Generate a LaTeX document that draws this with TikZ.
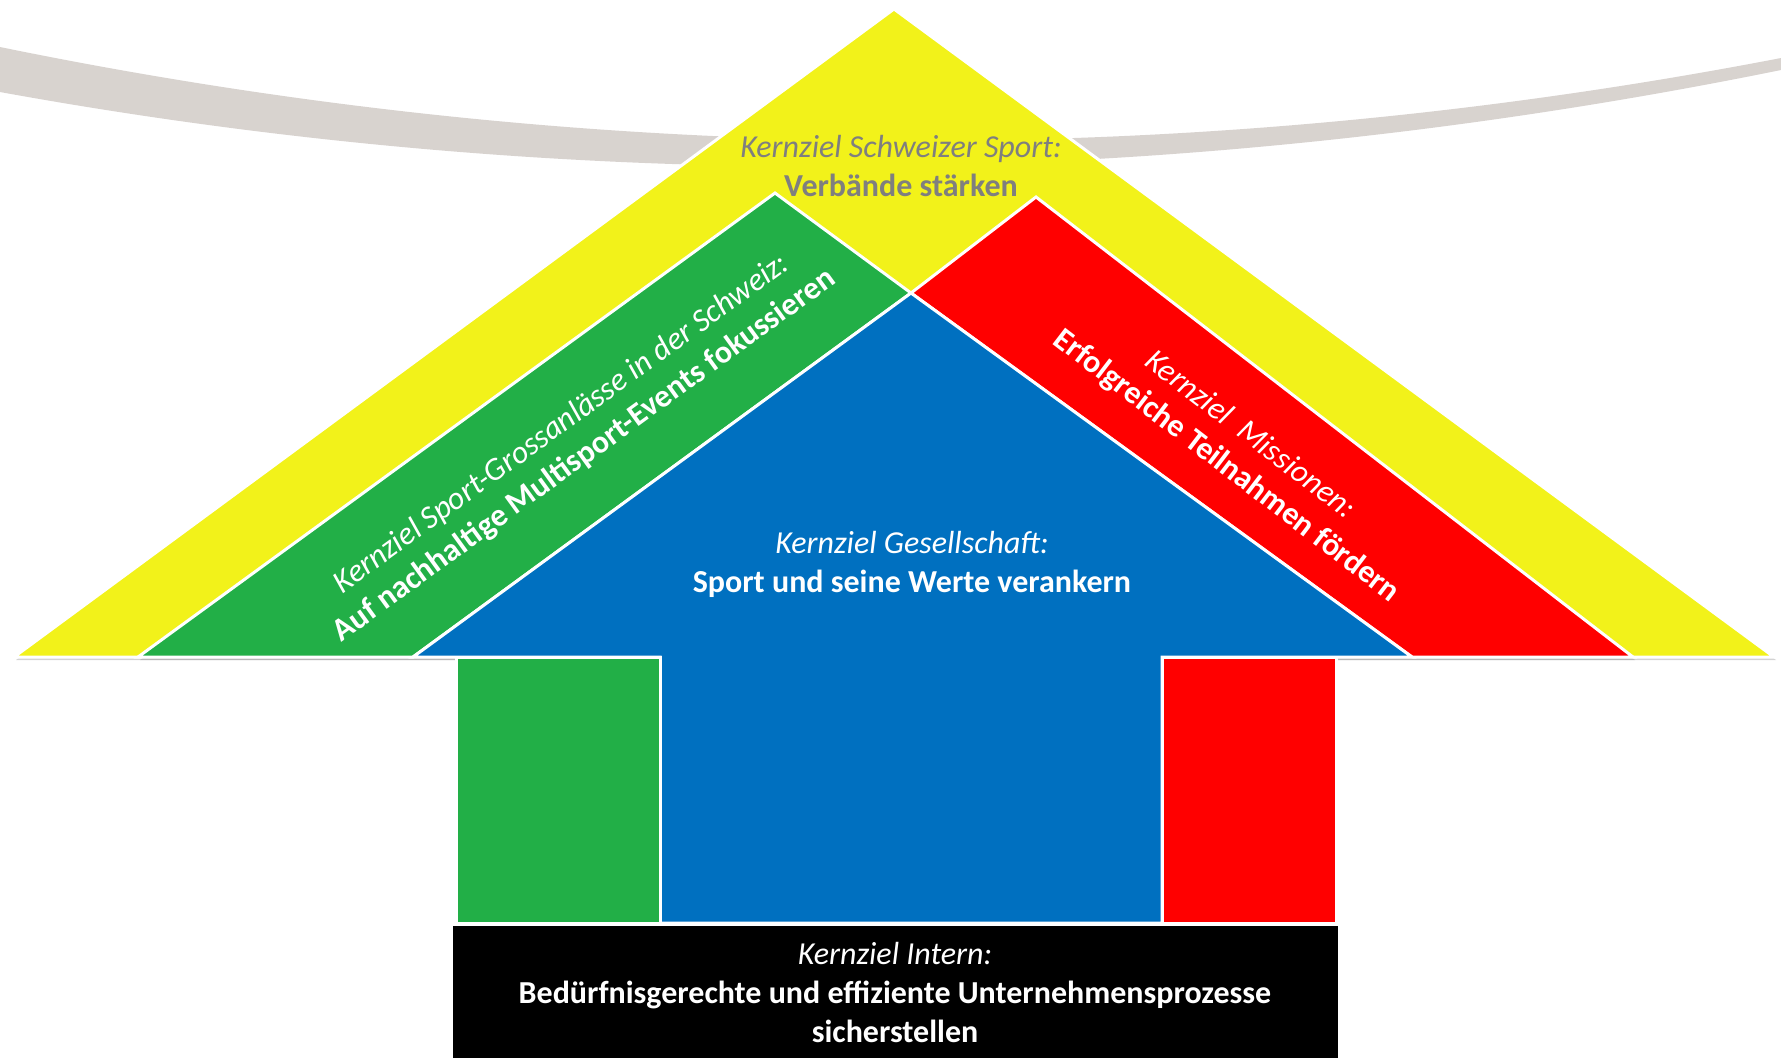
\documentclass[tikz,border=0pt]{standalone}
\usepackage{fontspec}
\setmainfont{Carlito}
\usetikzlibrary{shadows}
\definecolor{roofyellow}{HTML}{F2F21A}
\definecolor{roofgreen}{HTML}{22AF47}
\definecolor{roofred}{HTML}{FF0000}
\definecolor{roofblue}{HTML}{0070C0}
\definecolor{arcgrey}{HTML}{D8D3CF}
\definecolor{textgrey}{HTML}{7F7F7F}
\begin{document}
\begin{tikzpicture}[x=0.5pt, y=-0.5pt,
        part/.style={draw=white, line width=1.5pt, line join=miter},
        roofpart/.style={part, drop shadow={shadow xshift=1pt, shadow yshift=-1.5pt, opacity=0.35}},
        goalnode/.style={align=center, inner sep=0pt, font=\fontsize{16}{19.5}\selectfont},
        whitenode/.style={goalnode, text=white}
        ]
        %part/.style={draw=white, line width=1pt}
      \useasboundingbox (0,0) rectangle (1781,1057);
      % grey arc behind the roof
      \fill[arcgrey] (0,47) .. controls (600,170) and (1200,170) .. (1781,58)
                     -- (1781,70) .. controls (1200,188) and (600,201) .. (0,92) -- cycle;
      % roof
      \fill[roofyellow, roofpart] (14,657) -- (894,9) -- (1774,657) -- cycle;
      \fill[roofgreen, roofpart] (138,657) -- (775,193) -- (911,293) -- (413,657) -- cycle;
      \fill[roofred, roofpart] (1036,197) -- (1633,657) -- (1412,657) -- (911,293) -- cycle;
      \fill[roofblue, roofpart] (911,293) -- (1412,657) -- (1162,657) -- (1162,923)
                               -- (660,923) -- (660,657) -- (413,657) -- cycle;
      % walls and base
      \fill[roofgreen, part] (456,657) rectangle (660,923);
      \fill[roofred, part] (1162,657) rectangle (1336,923);
      \fill[black, part] (451,924) rectangle (1339,1070);
      % labels
      \node[goalnode, text=textgrey] (sport) at (901,166)
        {\textit{Kernziel Schweizer Sport:}\\\textbf{Verbände stärken}};
      \node[whitenode, rotate=36] (events) at (573,440)
        {\textit{Kernziel Sport-Grossanlässe in der Schweiz:}\\\textbf{Auf nachhaltige Multisport-Events fokussieren}};
      \node[whitenode, rotate=-37.5] (missionen) at (1238,451)
        {\textit{Kernziel\ \ Missionen:}\\\textbf{Erfolgreiche Teilnahmen fördern}};
      \node[whitenode] (gesellschaft) at (912,564)
        {\textit{Kernziel Gesellschaft:}\\\textbf{Sport und seine Werte verankern}};
      \node[whitenode] (intern) at (895,992)
        {\textit{Kernziel Intern:}\\\textbf{Bedürfnisgerechte und effiziente Unternehmensprozesse}\\\textbf{sicherstellen}};
\end{tikzpicture}
\end{document}
